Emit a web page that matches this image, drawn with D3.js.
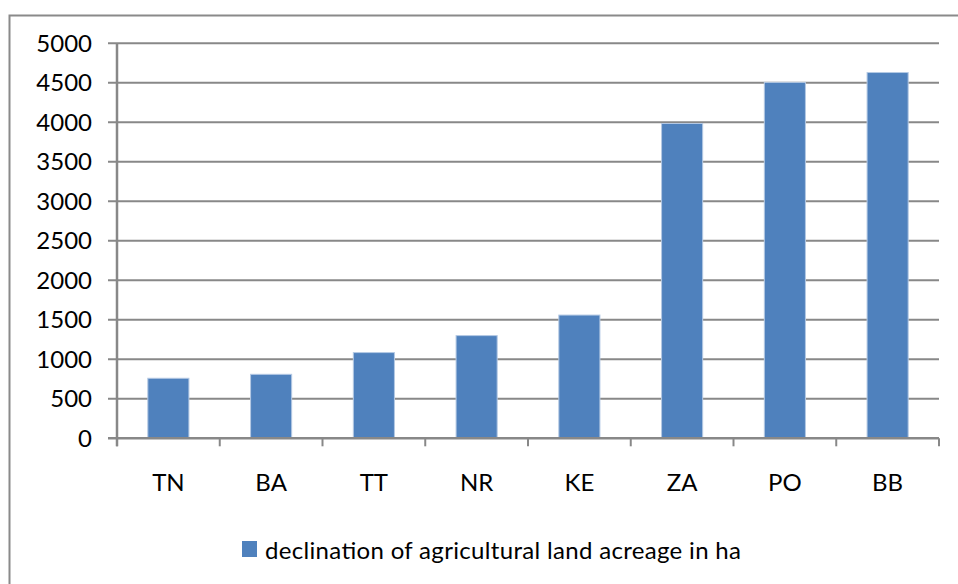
<!DOCTYPE html>
<html>
<head>
<meta charset="utf-8">
<script src="https://cdn.jsdelivr.net/npm/d3@7"></script>
<style>
  body { margin: 0; background: #fff; }
  svg { display: block; }
  text { font-family: Lato, "Open Sans", sans-serif; fill: #000; }
</style>
</head>
<body>
<svg id="chart" width="958" height="584"></svg>
<script>
// data
var regions = ["TN", "BA", "TT", "NR", "KE", "ZA", "PO", "BB"];
var declination = [760, 810, 1085, 1300, 1560, 3985, 4505, 4630];
var yTicks = [0, 500, 1000, 1500, 2000, 2500, 3000, 3500, 4000, 4500, 5000];
var seriesName = "declination of agricultural land acreage in ha";

var BAR_COLOR = "#4f81bd";
var GRID_COLOR = "#888888";
var FONT_SIZE = 24;

var svg = d3.select("#chart");
var plotL = 117, plotR = 939, plotT = 43.3, plotB = 438.3;

// outer chart border, runs off the right and bottom of the image
svg.append("rect")
    .attr("x", 9.5).attr("y", 15.5)
    .attr("width", 1000).attr("height", 700)
    .attr("fill", "none").attr("stroke", "#8a8a8a").attr("stroke-width", 2);

var x = d3.scaleBand().domain(regions).range([plotL, plotR]).padding(0);
var y = d3.scaleLinear().domain([0, 5000]).range([plotB, plotT]);

// horizontal gridlines with their short outside ticks
svg.append("g").selectAll("line")
    .data(yTicks.filter(function (d) { return d > 0; }))
    .enter().append("line")
    .attr("x1", plotL - 9).attr("x2", plotR)
    .attr("y1", function (d) { return y(d); })
    .attr("y2", function (d) { return y(d); })
    .attr("stroke", GRID_COLOR).attr("stroke-width", 2);

// y labels
svg.append("g").selectAll("text")
    .data(yTicks)
    .enter().append("text")
    .attr("x", 92)
    .attr("y", function (d) { return y(d); })
    .attr("dy", "0.36em")
    .attr("text-anchor", "end")
    .style("font-size", FONT_SIZE + "px")
    .text(function (d) { return d; });

// bars
var barW = x.bandwidth() * 0.4;
svg.append("g").selectAll("rect")
    .data(declination)
    .enter().append("rect")
    .attr("x", function (d, i) { return x(regions[i]) + (x.bandwidth() - barW) / 2; })
    .attr("y", function (d) { return y(d); })
    .attr("width", barW)
    .attr("height", function (d) { return plotB - y(d); })
    .attr("fill", BAR_COLOR)
    .attr("stroke", "#b4c9e4").attr("stroke-width", 1);

// y axis line
svg.append("line")
    .attr("x1", plotL).attr("x2", plotL)
    .attr("y1", plotT).attr("y2", plotB + 8)
    .attr("stroke", GRID_COLOR).attr("stroke-width", 2.5);

// x axis line + category boundary ticks
svg.append("line")
    .attr("x1", plotL - 9).attr("x2", plotR)
    .attr("y1", plotB).attr("y2", plotB)
    .attr("stroke", GRID_COLOR).attr("stroke-width", 2.5);

var bounds = regions.map(function (r) { return x(r); }).concat([plotR]);
svg.append("g").selectAll("line")
    .data(bounds)
    .enter().append("line")
    .attr("x1", function (d) { return d; }).attr("x2", function (d) { return d; })
    .attr("y1", plotB).attr("y2", plotB + 8)
    .attr("stroke", GRID_COLOR).attr("stroke-width", 2);

// category labels
svg.append("g").selectAll("text")
    .data(regions)
    .enter().append("text")
    .attr("x", function (d) { return x(d) + x.bandwidth() / 2; })
    .attr("y", 491)
    .attr("text-anchor", "middle")
    .style("font-size", FONT_SIZE + "px")
    .text(function (d) { return d; });

// legend
svg.append("rect")
    .attr("x", 242).attr("y", 541)
    .attr("width", 15).attr("height", 16)
    .attr("fill", BAR_COLOR);
svg.append("text")
    .attr("x", 265).attr("y", 559)
    .attr("textLength", 476)
    .attr("lengthAdjust", "spacing")
    .style("font-size", FONT_SIZE + "px")
    .text(seriesName);
</script>
</body>
</html>
